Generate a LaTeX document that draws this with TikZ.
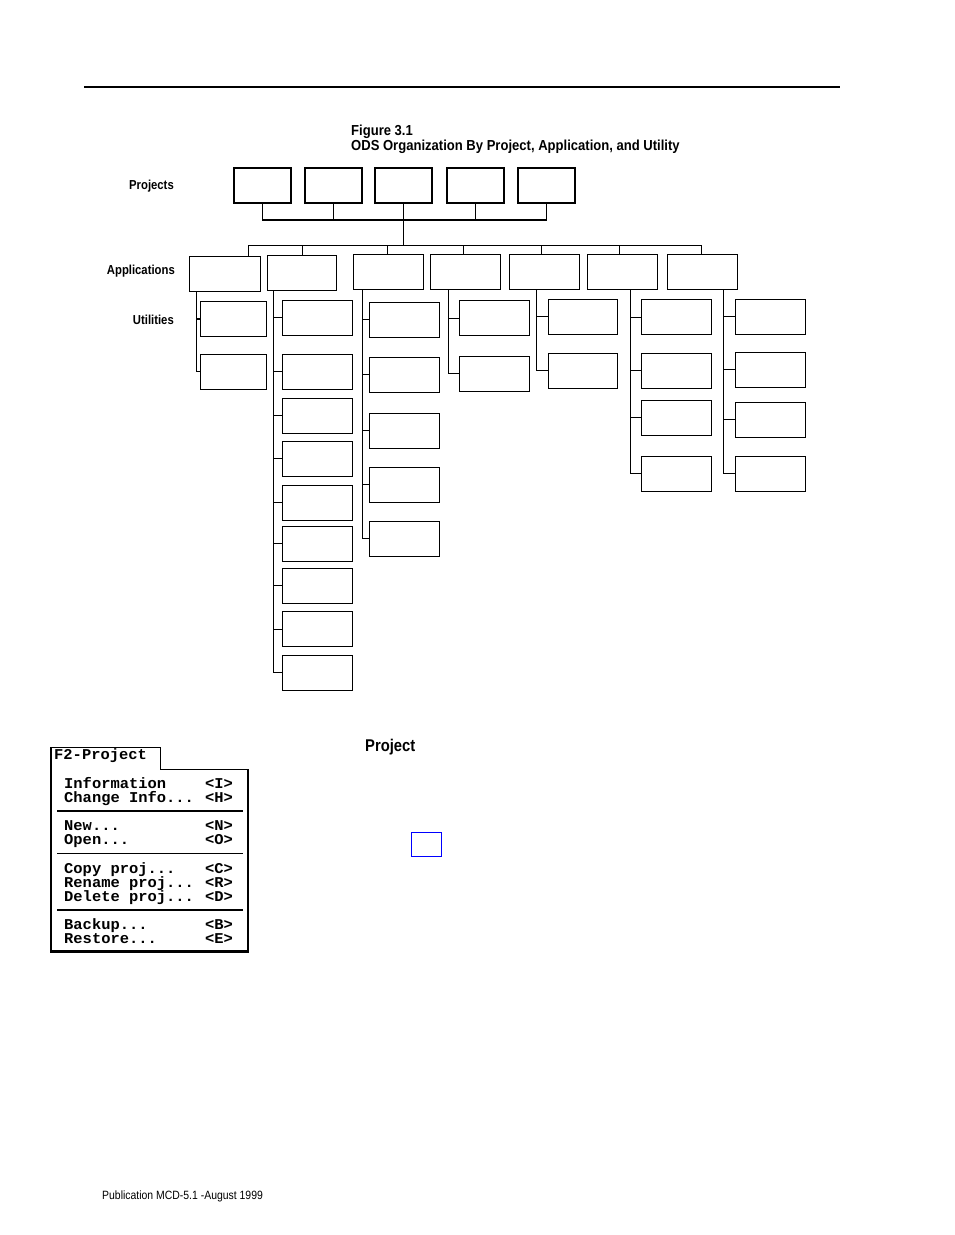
\documentclass[tikz,border=0pt]{standalone}
\usepackage{fontspec}
\newfontfamily\narrowfont[FakeStretch=0.87]{Liberation Sans}
\newfontfamily\capfont[FakeStretch=0.9]{Liberation Sans}
\newfontfamily\menufont[FakeStretch=1.03]{Liberation Mono}
\newcommand\mdots{...}

\begin{document}
\begin{tikzpicture}[x=1pt,y=-1pt,
  box/.style={draw, line width=1.3pt, inner sep=0pt, minimum width=70, minimum height=35},
  wire/.style={line width=1.3pt},
  tag/.style={font=\narrowfont\bfseries\fontsize{13}{15}\selectfont, inner sep=0pt, anchor=base east},
  figtitle/.style={font=\capfont\bfseries\fontsize{14.5}{16}\selectfont, inner sep=0pt, anchor=base west},
  menuitem/.style={font=\menufont\bfseries\fontsize{15}{17}\selectfont, inner sep=0pt, anchor=base west}]
\useasboundingbox (0,0) rectangle (954,1235);

% page rule and caption
\coordinate (rl) at (84,87);
\coordinate (rr) at (840,87);
\draw[line width=1.8pt] (rl) -- (rr);
\node[figtitle] (fignum) at (351,135) {Figure 3.1};
\node[figtitle] (figname) at (351,150) {ODS Organization By Project, Application, and Utility};

% level labels
\node[tag] (lproj) at (174,189.5) {Projects};
\node[tag] (lapp) at (175,274.5) {Applications};
\node[tag] (lutil) at (174,324.5) {Utilities};

% projects
\foreach \x [count=\i] in {262.5,333.5,403.5,475.5,546.5}
  \node[box, minimum width=57] (p\i) at (\x,185.5) {};
\coordinate (pj) at (403.5,220);
\foreach \i in {1,...,5}
  \draw[wire] (p\i.south) |- (pj);

% applications
\foreach \x/\y/\w [count=\i] in {224.8/273.8/71, 302/272.8/69.4, 388.5/271.8/70.4,
    465.3/271.8/70, 544.3/271.8/70, 622.3/271.8/70, 702.3/271.8/70}
  \node[box, minimum width=\w] (a\i) at (\x,\y) {};
\coordinate (bus) at (403.5,245.3);
\draw[wire] (pj) -- (bus);
\foreach \x [count=\i] in {248.7,302.3,387.3,463.3,541.3,619.7,701.3} {
  \coordinate (d\i) at (\x,245.3);
  \draw[wire] (d\i) -- (d\i |- a\i.north);
}
\draw[wire] (d1) -- (d7);

% utilities
\foreach \c/\sx/\bx/\w/\n/\ys in {
    1/196.3/233.5/66.4/2/{319,371.8},
    2/273.3/317.5/70/9/{317.8,371.8,415.8,458.8,502.8,543.8,585.8,629.3,672.8},
    3/362.3/404.8/70/5/{319.8,374.8,430.8,484.8,538.8},
    4/448.3/494.8/70/2/{318.3,373.8},
    5/536.7/582.8/69/2/{316.8,370.8},
    6/630.3/676.3/70/4/{317.3,370.8,417.8,473.8},
    7/723.7/770.3/70/4/{316.8,369.8,419.8,473.8}} {
  \coordinate (sx) at (\sx,0);
  \coordinate (s\c) at (a\c.south -| sx);
  \foreach \y [count=\j] in \ys {
    \node[box, minimum width=\w] (u\c-\j) at (\bx,\y) {};
    \draw[wire] (s\c |- u\c-\j.west) -- (u\c-\j.west);
  }
  \draw[wire] (s\c) -- (s\c |- u\c-\n.west);
}

% menu
\draw[line width=0.9pt] (51,952) -- (51,747) -- (160,747) -- (160,769.5) -- (248,769.5) -- (248,952) -- cycle;
\draw[line width=2.4pt] (51,747) -- (51,951.5) -- (248,951.5) -- (248,769.5);
\foreach \y in {811,853.3,910}
  \draw[line width=1.1pt] (57,\y) -- (243,\y);
\node[menuitem] (mtab) at (54,759.5) {F2-Project};
\foreach \t/\k/\y [count=\i] in {Information/I/788.5, Change Info\mdots/H/802.5,
    New\mdots/N/830.5, Open\mdots/O/844.5, Copy proj\mdots/C/873.5, Rename proj\mdots/R/887.5,
    Delete proj\mdots/D/901.5, Backup\mdots/B/929.5, Restore\mdots/E/943.5} {
  \node[menuitem] (mi\i) at (64,\y) {\t};
  \node[menuitem] (mk\i) at (205,\y) {<\k>};
}

% heading and marker
\node[font=\narrowfont\bfseries\fontsize{17}{19}\selectfont, inner sep=0pt, anchor=base west] (head) at (365,751) {Project};
\node[draw=blue, line width=1.4pt, minimum width=30, minimum height=24, inner sep=0pt] (mark) at (426.3,844.3) {};

% footer
\node[font=\narrowfont\fontsize{12}{14}\selectfont, inner sep=0pt, anchor=base west] (foot) at (102,1199) {Publication MCD-5.1 -August 1999};
\end{tikzpicture}
\end{document}
